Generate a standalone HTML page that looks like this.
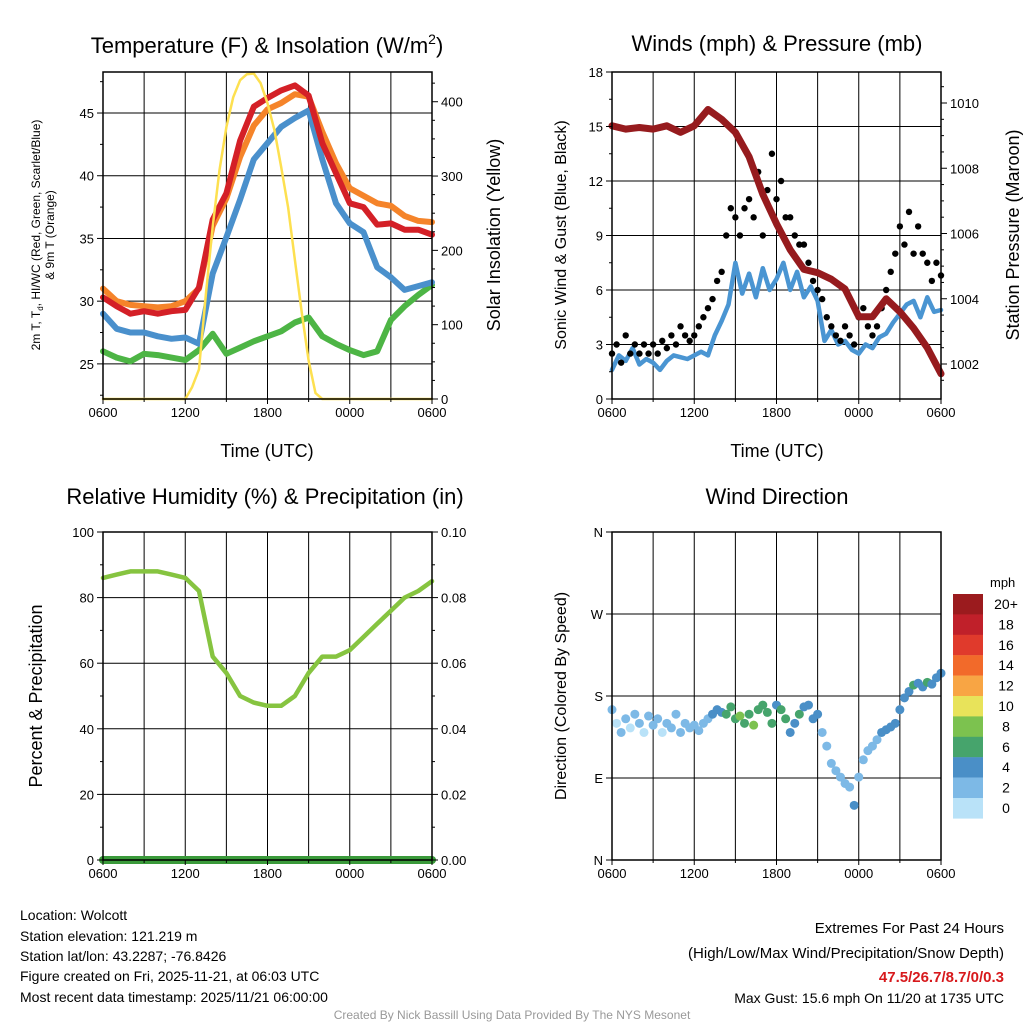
<!DOCTYPE html>
<html><head><meta charset="utf-8">
<style>
html,body{margin:0;padding:0;background:#fff;}
body{width:1024px;height:1024px;overflow:hidden;font-family:"Liberation Sans",Arial,sans-serif;}
svg text{font-family:"Liberation Sans",Arial,sans-serif;}
</style></head>
<body>
<svg id="c" width="1024" height="1024" viewBox="0 0 1024 1024" xmlns="http://www.w3.org/2000/svg">
<g id="g"></g>
<g font-size="14" fill="#000">
<text x="20" y="920">Location: Wolcott</text>
<text x="20" y="941">Station elevation: 121.219 m</text>
<text x="20" y="961">Station lat/lon: 43.2287; -76.8426</text>
<text x="20" y="981">Figure created on Fri, 2025-11-21, at 06:03 UTC</text>
<text x="20" y="1002">Most recent data timestamp: 2025/11/21 06:00:00</text>
<text x="1004" y="933" text-anchor="end" font-size="15">Extremes For Past 24 Hours</text>
<text x="1004" y="958" text-anchor="end" font-size="15">(High/Low/Max Wind/Precipitation/Snow Depth)</text>
<text x="1004" y="982" text-anchor="end" font-size="15" font-weight="bold" fill="#d7191c">47.5/26.7/8.7/0/0.3</text>
<text x="1004" y="1003" text-anchor="end" font-size="14">Max Gust: 15.6 mph On 11/20 at 1735 UTC</text>
<text x="512" y="1019" text-anchor="middle" font-size="12" fill="#999">Created By Nick Bassill Using Data Provided By The NYS Mesonet</text>
</g>
</svg>
<script>
const hoursLabels = ["0600","1200","1800","0000","0600"];
const tempRed = [30.3,29.6,29.0,29.2,29.0,29.2,29.3,31.1,36.5,38.6,42.8,45.5,46.2,46.8,47.2,46.4,42.6,40.2,37.8,37.5,36.1,36.2,35.7,35.7,35.3];
const tempOrange = [31.0,30.0,29.7,29.6,29.5,29.6,30.0,31.0,36.0,38.2,41.5,44.0,45.3,45.8,46.5,46.3,43.5,41.0,39.0,38.4,37.8,37.6,36.8,36.4,36.3];
const tempBlue = [29.0,27.8,27.5,27.5,27.2,27.0,27.1,26.6,32.2,35.1,38.1,41.3,42.6,43.9,44.6,45.2,41.3,37.8,36.2,35.5,32.7,31.9,30.9,31.2,31.5];
const dewGreen = [26.0,25.5,25.2,25.8,25.7,25.5,25.3,26.1,27.4,25.8,26.3,26.8,27.2,27.6,28.3,28.7,27.2,26.6,26.1,25.7,26.0,28.5,29.6,30.5,31.3];
const insolation = [0,0,0,0,0,0,0,0,0,0,0,0,0,16,40,140,232,308,366,406,429,437,438,425,398,362,312,258,187,116,52,8,0,0,0,0,0,0,0,0,0,0,0,0,0,0,0,0,0];
const pressure = [1009.3,1009.2,1009.25,1009.2,1009.3,1009.1,1009.3,1009.8,1009.5,1009.1,1008.35,1007.2,1006.3,1005.5,1004.9,1004.8,1004.6,1004.3,1003.45,1003.45,1004.0,1003.6,1003.1,1002.5,1001.7];
const sonicWind = [1.6,2.4,2.1,2.8,1.9,2.2,2.0,1.6,2.1,2.4,2.3,2.2,2.4,2.6,2.4,3.5,4.3,5.2,7.5,5.8,6.9,5.6,7.2,6.0,6.6,7.5,6.0,7.0,5.6,6.2,5.4,3.2,3.8,3.0,3.2,2.7,2.5,3.0,2.8,3.4,3.6,4.2,4.7,5.2,5.4,4.5,5.6,4.8,4.9];
const gusts = [2.5,3,2,3.5,2.5,3,2.5,3,2.5,3,2.5,3.2,2.8,3.5,3,4,3.5,3.2,3.5,4,4.5,5,5.5,6.5,7,9,10.5,10,9,10.5,11,10,12.5,9,11.5,13.5,11,12,10,10,9,8.5,8.5,7.5,6.5,6,5.5,4.5,4,3.5,3.2,4,3.5,3,4.5,5,4,3.5,4,5,6,7,8,9.5,8.5,10.3,8,9.5,8,7.5,6.5,7.5,6.8];
const rh = [86,87,88,88,88,87,86,82,62,57,50,48,47,47,50,57,62,62,64,68,72,76,80,82,85];
const precip = [0,0,0,0,0,0,0,0,0,0,0,0,0,0,0,0,0,0,0,0,0,0,0,0,0];
const windDir = [165,150,140,155,145,160,150,140,158,148,155,140,150,145,160,140,150,145,148,142,150,155,160,165,162,160,168,155,158,150,160,148,165,170,162,150,170,165,155,140,150,160,168,170,155,160,140,125,106,98,91,84,80,60,91,110,120,125,132,140,143,146,150,165,178,185,192,194,190,195,193,200,205];
const windSpd = [2.5,1.5,2.5,2.5,1.8,2.5,2.5,1.5,2.5,2.5,2.5,1.8,2.5,2.5,2.5,2.5,2.5,3,2.5,3,2.5,3.5,4.5,4.5,4.5,6.5,7,6.5,8.5,7,6.5,8.5,7,6.5,7,6.5,5,6.5,7,4.5,5,6.5,5,4.5,5,4.5,3,3,2.5,2.5,3,2.5,3,4.5,3,3,2.5,3,3.5,4.5,4.5,4.5,4.5,5,4.5,4.5,6.5,5,4.5,6.5,5,4.5,4.5];
const spdLegendLabels = ["20+","18","16","14","12","10","8","6","4","2","0"];
const spdColors = ["#9b1b1e","#c0202a","#e03a2c","#f26a2a","#f8a544","#e8e35a","#7cc24f","#46a46c","#4a8fc7","#7db9e6","#b9e2f8"];

const NS="http://www.w3.org/2000/svg";
const G=document.getElementById('g');
function el(tag,attrs,parent){const e=document.createElementNS(NS,tag);for(const k in attrs)e.setAttribute(k,attrs[k]);(parent||G).appendChild(e);return e;}
function txt(s,attrs,parent){const t=el('text',attrs,parent);t.textContent=s;return t;}

function panel(P){
  const g=el('g',{});
  
  
  P.g=g;
  P.X=h=>P.x0+(P.x1-P.x0)*h/24;
  P.Y=v=>P.y1-(v-P.ymin)/(P.ymax-P.ymin)*(P.y1-P.y0);
  for(let h=3;h<24;h+=3){const l=el('line',{x1:P.X(h),x2:P.X(h),y1:P.y0,y2:P.y1,stroke:'#000','stroke-width':1},g);
    }
  P.gridY.forEach(v=>{const l=el('line',{x1:P.x0,x2:P.x1,y1:P.Y(v),y2:P.Y(v),stroke:'#000','stroke-width':1},g);
    });
  return g;
}
function frame(P){
  const g=P.g;
  const r=el('rect',{x:P.x0,y:P.y0,width:P.x1-P.x0,height:P.y1-P.y0,fill:'none',stroke:'#000','stroke-width':1.5},g);
  
  hoursLabels.forEach((s,i)=>{const x=P.X(i*6);
    el('line',{x1:x,x2:x,y1:P.y1,y2:P.y1+5,stroke:'#000'},g);
    const t=txt(s,{x:x,y:P.y1+18,'font-size':13,'text-anchor':'middle'},g);
    });
  for(let h=3;h<24;h+=6){el('line',{x1:P.X(h),x2:P.X(h),y1:P.y1,y2:P.y1+3,stroke:'#000'},g);}
}
function leftTicks(P,vals,labels,minor){
  vals.forEach((v,i)=>{const y=P.Y(v);el('line',{x1:P.x0-6,x2:P.x0,y1:y,y2:y,stroke:'#000'},P.g);
    const t=txt(labels[i],{x:P.x0-9,y:y+5,'font-size':13,'text-anchor':'end'},P.g);
    });
  (minor||[]).forEach(v=>{const y=P.Y(v);el('line',{x1:P.x0-3,x2:P.x0,y1:y,y2:y,stroke:'#000'},P.g);});
}
function rightTicks(P,Yf,vals,labels,minor){
  vals.forEach((v,i)=>{const y=Yf(v);el('line',{x1:P.x1,x2:P.x1+6,y1:y,y2:y,stroke:'#000'},P.g);
    const t=txt(labels[i],{x:P.x1+9,y:y+5,'font-size':13},P.g);
    });
  (minor||[]).forEach(v=>{const y=Yf(v);el('line',{x1:P.x1,x2:P.x1+3,y1:y,y2:y,stroke:'#000'},P.g);});
}
function line(P,arr,step,Yf,color,w,name){
  const pts=arr.map((v,i)=>P.X(i*step).toFixed(1)+','+Yf(v).toFixed(1)).join(' ');
  const p=el('polyline',{points:pts,fill:'none',stroke:color,'stroke-width':w,'stroke-linejoin':'round','stroke-linecap':'round'},P.g);
  
  return p;
}
function rot(s,x,y,size,name){const t=txt(s,{x:x,y:y,'font-size':size,'text-anchor':'middle',transform:`rotate(-90 ${x} ${y})`});
  return t;}

// Panel 1
const P1={name:'temperature-panel',x0:103,x1:432,y0:72,y1:399,ymin:22.2,ymax:48.27,gridY:[25,30,35,40,45]};
panel(P1);
const Ys1=v=>P1.y1-v/440*(P1.y1-P1.y0);
line(P1,dewGreen,1,P1.Y,'#4db545',6,'dewpoint-line');
line(P1,tempBlue,1,P1.Y,'#4a90cc',6,'windchill-line');
line(P1,tempOrange,1,P1.Y,'#f5842a',6,'temp-9m-line');
line(P1,tempRed,1,P1.Y,'#d42027',6,'temp-2m-line');
line(P1,insolation,0.5,Ys1,'#fde050',2.5,'insolation-line');
frame(P1);
leftTicks(P1,[25,30,35,40,45],["25","30","35","40","45"],[22.5,27.5,32.5,37.5,42.5,47.5]);
rightTicks(P1,Ys1,[0,100,200,300,400],["0","100","200","300","400"],[25,50,75,125,150,175,225,250,275,325,350,375,425]);
{const t=el('text',{x:267,y:53,'font-size':22,'text-anchor':'middle'});
 t.innerHTML='Temperature (F) &amp; Insolation (W/m<tspan dy="-9" font-size="14">2</tspan><tspan dy="9">)</tspan>';}
{const t=txt('Time (UTC)',{x:267,y:457,'font-size':18,'text-anchor':'middle'});}
{const t=el('text',{x:40,y:235,'font-size':12,'text-anchor':'middle',transform:'rotate(-90 40 235)'});
 t.innerHTML='2m T, T<tspan dy="3" font-size="8">d</tspan><tspan dy="-3">, HI/WC (Red, Green, Scarlet/Blue)</tspan>';}
rot('& 9m T (Orange)',54,235,12,'temperature-y-title-2');
rot('Solar Insolation (Yellow)',500,235,18,'insolation-y-title');

// Panel 2
const P2={name:'winds-panel',x0:612,x1:941,y0:72,y1:399,ymin:0,ymax:18,gridY:[3,6,9,12,15]};
panel(P2);
const Yp=v=>364-(v-1002)*(364-103)/8;
line(P2,sonicWind,0.5,P2.Y,'#4a95d2',4.5,'sonic-wind-line');
gusts.forEach((v,i)=>{const c=el('circle',{cx:P2.X(i/3),cy:P2.Y(v),r:3.2,fill:'#000'},P2.g);
  });
line(P2,pressure,1,Yp,'#961b1e',7,'pressure-line');
frame(P2);
leftTicks(P2,[0,3,6,9,12,15,18],["0","3","6","9","12","15","18"],[1.5,4.5,7.5,10.5,13.5,16.5]);
rightTicks(P2,Yp,[1002,1004,1006,1008,1010],["1002","1004","1006","1008","1010"],[1001.5,1002.5,1003,1003.5,1004.5,1005,1005.5,1006.5,1007,1007.5,1008.5,1009,1009.5,1010.5]);
{const t=txt('Winds (mph) & Pressure (mb)',{x:777,y:51,'font-size':22,'text-anchor':'middle'});}
{const t=txt('Time (UTC)',{x:777,y:457,'font-size':18,'text-anchor':'middle'});}
rot('Sonic Wind & Gust (Blue, Black)',566,235,16,'wind-y-title');
rot('Station Pressure (Maroon)',1019,235,18,'pressure-y-title');

// Panel 3
const P3={name:'humidity-panel',x0:103,x1:432,y0:532,y1:860,ymin:0,ymax:100,gridY:[20,40,60,80]};
panel(P3);
const Ypr=v=>P3.y1-v/0.1*(P3.y1-P3.y0);
line(P3,rh,1,P3.Y,'#86c440',4.5,'rh-line');
line(P3,precip,1,Ypr,'#3a9a3a',8,'precip-line');
frame(P3);
leftTicks(P3,[0,20,40,60,80,100],["0","20","40","60","80","100"],[10,30,50,70,90]);
rightTicks(P3,Ypr,[0,0.02,0.04,0.06,0.08,0.1],["0.00","0.02","0.04","0.06","0.08","0.10"],[0.01,0.03,0.05,0.07,0.09]);
{const t=txt('Relative Humidity (%) & Precipitation (in)',{x:265,y:504,'font-size':22,'text-anchor':'middle'});}
rot('Percent & Precipitation',42,696,18,'humidity-y-title');

// Panel 4
const P4={name:'wind-direction-panel',x0:612,x1:941,y0:532,y1:860,ymin:0,ymax:360,gridY:[90,180,270]};
panel(P4);
function spdColor(s){let i=Math.floor(s/2);if(i>10)i=10;return spdColors[10-i];}
windDir.forEach((d,i)=>{const c=el('circle',{cx:P4.X(i/3),cy:P4.Y(d),r:4.5,fill:spdColor(windSpd[i])},P4.g);
  });
frame(P4);
leftTicks(P4,[0,90,180,270,360],["N","E","S","W","N"],[]);
{const t=txt('Wind Direction',{x:777,y:504,'font-size':22,'text-anchor':'middle'});}
rot('Direction (Colored By Speed)',566,696,16,'direction-y-title');
{const lg=el('g',{});
 txt('mph',{x:990,y:587,'font-size':13},lg);
 spdLegendLabels.forEach((s,i)=>{const y=594+i*20.4;
   const r=el('rect',{x:953,y:y,width:30,height:20.6,fill:spdColors[i]},lg);
   
   txt(s,{x:1006,y:y+15,'font-size':14,'text-anchor':'middle'},lg);});}
</script>
</body></html>
